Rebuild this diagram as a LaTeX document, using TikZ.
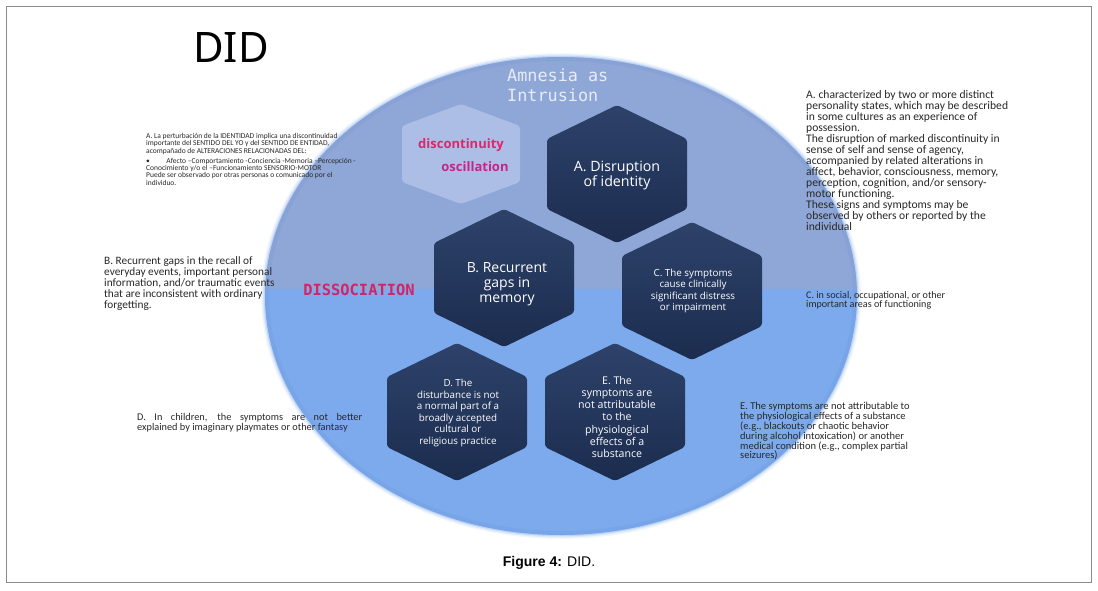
\documentclass[tikz,border=0pt]{standalone}
\usepackage{fontspec}
\setmainfont{Carlito}
\newfontfamily\hexfont{Open Sans}
\newfontfamily\monofont{DejaVu Sans Mono}
\newfontfamily\titlefont{Noto Sans}
\newfontfamily\capfont{Liberation Sans}
\definecolor{upperblue}{RGB}{143,167,215}
\definecolor{lowerblue}{RGB}{124,170,236}
\definecolor{rimblue}{RGB}{100,135,210}
\definecolor{hextop}{RGB}{46,66,106}
\definecolor{hexbot}{RGB}{27,44,78}
\definecolor{lighthex}{RGB}{172,190,230}
\definecolor{discred}{RGB}{226,36,108}
\definecolor{oscmag}{RGB}{196,38,136}
\definecolor{dissred}{RGB}{210,36,104}
\definecolor{sidegray}{RGB}{40,40,40}
\definecolor{mistwhite}{RGB}{232,236,246}
\tikzset{
  hexa/.pic={\path[pic actions] (0,-69) -- (70,-35) -- (70,35) -- (0,69) -- (-70,35) -- (-70,-35) -- cycle;},
  smallhexa/.pic={\path[pic actions] (0,-50) -- (59,-28) -- (59,28) -- (0,50) -- (-59,28) -- (-59,-28) -- cycle;},
  darkhex/.style={top color=hextop, bottom color=hexbot, rounded corners=3pt},
  hextext/.style={text=white, align=center, inner sep=0pt},
  sidetext/.style={text=sidegray, align=left, inner sep=0pt, anchor=north west},
}
\begin{document}
\begin{tikzpicture}[x=1pt,y=-1pt]
\useasboundingbox (0,0) rectangle (1098,591);
\fill[white] (0,0) rectangle (1098,591);
\draw[black!45, line width=0.8pt] (6.5,6.5) rectangle (1091.5,582.5);

% ellipse background with soft edge
\foreach \g/\o in {4/0.10,2.5/0.18,1.2/0.3}{
  \fill[lowerblue, opacity=\o] (561,296) ellipse [x radius=296+\g, y radius=239+\g];
}
\begin{scope}
\clip (561,296) ellipse [x radius=296, y radius=239];
\fill[upperblue] (250,40) rectangle (870,289);
\fill[lowerblue] (250,289) rectangle (870,550);
\draw[rimblue, opacity=0.15, line width=8pt] (561,296) ellipse [x radius=296, y radius=239];
\end{scope}

% light hexagon
\pic[fill=lighthex, rounded corners=3pt] at (461,154) {smallhexa};
\node[font=\hexfont\bfseries\fontsize{13}{14}\selectfont, text=discred, inner sep=0pt] (disc) at (461,145) {discontinuity};
\node[font=\hexfont\bfseries\fontsize{13}{14}\selectfont, text=oscmag, inner sep=0pt] (osc) at (475,167) {oscillation};

% dark hexagons
\pic[darkhex] at (617,174) {hexa};
\pic[darkhex] at (504,278) {hexa};
\pic[darkhex] at (692,291) {hexa};
\pic[darkhex] at (457,412) {hexa};
\pic[darkhex] at (615,412) {hexa};

\node[hextext, font=\hexfont\fontsize{14.2}{15}\selectfont] (hA) at (617,175) {A. Disruption\\of identity};
\node[hextext, font=\hexfont\fontsize{14}{15}\selectfont] (hB) at (507,284) {B. Recurrent\\gaps in\\memory};
\node[hextext, font=\hexfont\fontsize{9.8}{11.3}\selectfont] (hC) at (693,291) {C. The symptoms\\cause clinically\\significant distress\\or impairment};
\node[hextext, font=\hexfont\fontsize{9.8}{11.6}\selectfont] (hD) at (458,413) {D. The\\disturbance is not\\a normal part of a\\broadly accepted\\cultural or\\religious practice};
\node[hextext, font=\hexfont\fontsize{10.6}{12.1}\selectfont] (hE) at (617,417) {E. The\\symptoms are\\not attributable\\to the\\physiological\\effects of a\\substance};

% titles
\node[font=\titlefont\fontsize{42}{48}\selectfont, anchor=base west, inner sep=0pt] (title) at (193,63) {DID};
\node[font=\monofont\fontsize{16.8}{20}\selectfont, text=mistwhite, align=left, anchor=north west, inner sep=0pt] (amn) at (507,69) {Amnesia as\\Intrusion};
\node[font=\monofont\bfseries\fontsize{15.4}{18}\selectfont, text=dissred, inner sep=0pt] (diss) at (359,290) {DISSOCIATION};

% side texts
\node[sidetext, font=\fontsize{11.6}{11}\selectfont] (tA) at (806,90) {A. characterized by two or more distinct\\personality states, which may be described\\in some cultures as an experience of\\possession.\\The disruption of marked discontinuity in\\sense of self and sense of agency,\\accompanied by related alterations in\\affect, behavior, consciousness, memory,\\perception, cognition, and/or sensory-\\motor functioning.\\These signs and symptoms may be\\observed by others or reported by the\\individual};
\node[sidetext, font=\fontsize{7.5}{7.4}\selectfont] (tS) at (146,133) {A. La perturbación de la IDENTIDAD implica una discontinuidad\\importante del SENTIDO DEL YO y del SENTIDO DE ENTIDAD,\\acompañado de ALTERACIONES RELACIONADAS DEL:\\[2.5pt]•\hspace{2.2em}Afecto –Comportamiento -Conciencia -Memoria –Percepción -\\Conocimiento y/o el –Funcionamiento SENSORIO-MOTOR\\Puede ser observado por otras personas o comunicado por el\\individuo.};
\node[sidetext, font=\fontsize{11.3}{11}\selectfont] (tB) at (104,256) {B. Recurrent gaps in the recall of\\everyday events, important personal\\information, and/or traumatic events\\that are inconsistent with ordinary\\forgetting.};
\node[sidetext, font=\fontsize{10.1}{9.5}\selectfont] (tC) at (806,291) {C. in social, occupational, or other\\important areas of functioning};
\node[sidetext, font=\fontsize{10.3}{10}\selectfont] (tD) at (137,413) {\makebox[225pt][s]{D. In children, the symptoms are not better}\\explained by imaginary playmates or other fantasy};
\node[sidetext, font=\fontsize{10.5}{9.9}\selectfont] (tE) at (740,402) {E. The symptoms are not attributable to\\the physiological effects of a substance\\(e.g., blackouts or chaotic behavior\\during alcohol intoxication) or another\\medical condition (e.g., complex partial\\seizures)};

% caption
\node[font=\capfont\fontsize{14}{16}\selectfont, inner sep=0pt] (cap) at (549,563) {\textbf{Figure 4:} DID.};
\end{tikzpicture}
\end{document}
